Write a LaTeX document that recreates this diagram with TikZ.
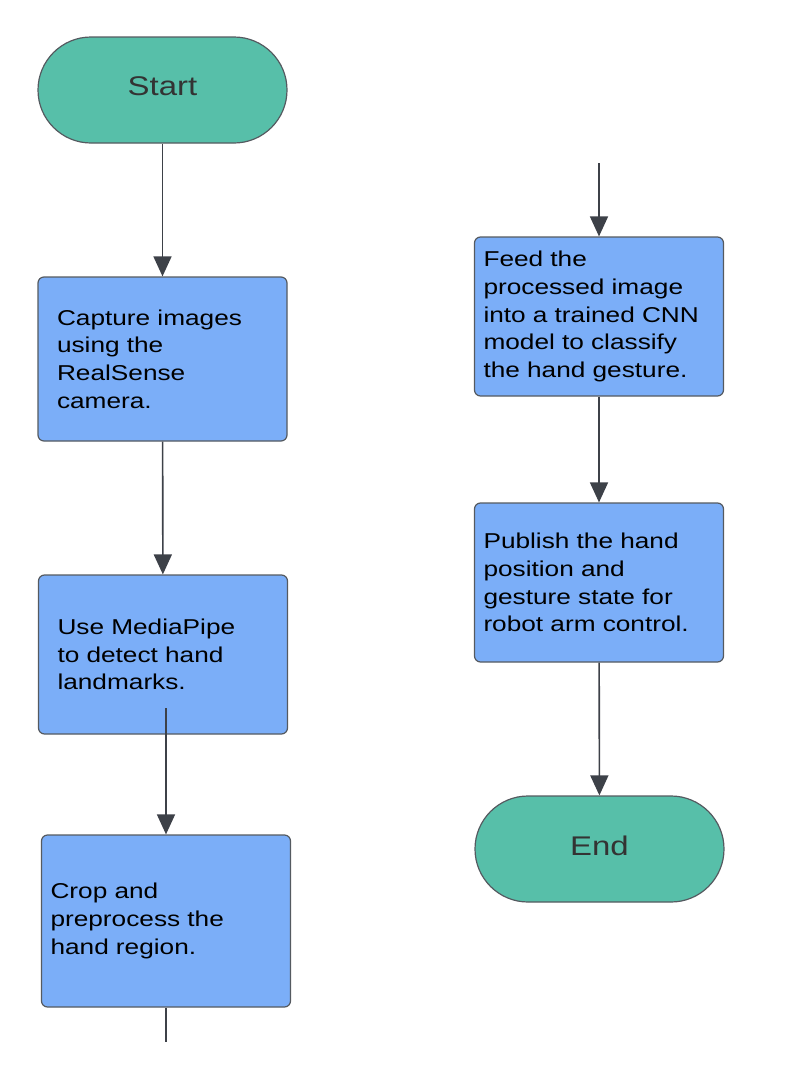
\documentclass[tikz,border=0pt]{standalone}
\usepackage{fontspec}
\setmainfont{Liberation Sans}[FakeStretch=1.22]
\usetikzlibrary{arrows.meta}
\definecolor{termgreen}{HTML}{57BFA9}
\definecolor{stepblue}{HTML}{7BAEF8}
\definecolor{edgegray}{HTML}{3D4148}
\definecolor{linegray}{HTML}{555A60}
\definecolor{labelgray}{HTML}{333333}

\begin{document}
\begin{tikzpicture}[
    x=1pt, y=-1pt,
    terminal/.style={rectangle, rounded corners=53pt, draw=linegray, line width=1.2pt,
        fill=termgreen, minimum width=249pt, minimum height=106pt, text depth=7pt,
        font=\fontsize{27}{30}\selectfont, text=labelgray},
    stepbox/.style={rectangle, rounded corners=6pt, draw=linegray, line width=1.2pt,
        fill=stepblue, minimum width=249pt, align=left, text width=211pt,
        inner xsep=19pt, font=\fontsize{21.5}{27.7}\selectfont},
    rightbox/.style={stepbox, text width=231pt, inner xsep=9pt},
    edge/.style={draw=edgegray, line width=1.6pt, -{Triangle[width=18pt,length=20pt]}},
    plain/.style={draw=edgegray, line width=1.6pt}
]
    \useasboundingbox (0,0) rectangle (804,1074);
    \node[terminal] (start) at (162.5,90) {Start};
    \node[stepbox, minimum height=164pt] (capture) at (162.5,359) {Capture images\\using the\\RealSense\\camera.};
    \node[stepbox, minimum height=159pt] (mediapipe) at (163,654.5) {Use MediaPipe\\to detect hand\\landmarks.};
    \node[rightbox, minimum height=172pt, minimum width=248pt] (crop) at (166,921) {Crop and\\preprocess the\\hand region.};
    \node[rightbox, minimum height=159pt] (feed) at (599,316.5) {Feed the\\processed image\\into a trained CNN\\model to classify\\the hand gesture.};
    \node[rightbox, minimum height=159pt] (publish) at (599,582.5) {Publish the hand\\position and\\gesture state for\\robot arm control.};
    \node[terminal] (end) at (599.5,849) {End};
    \coordinate (mptail) at (166,708);
    \coordinate (cropout) at (166,1042);
    \coordinate (feedin) at (599,163);
    \draw[edge] (start) -- (capture);
    \draw[edge] (capture) -- (mediapipe);
    \draw[edge] (mptail) -- (crop);
    \draw[plain] (crop) -- (cropout);
    \draw[edge] (feedin) -- (feed);
    \draw[edge] (feed) -- (publish);
    \draw[edge] (publish) -- (end);
\end{tikzpicture}
\end{document}
